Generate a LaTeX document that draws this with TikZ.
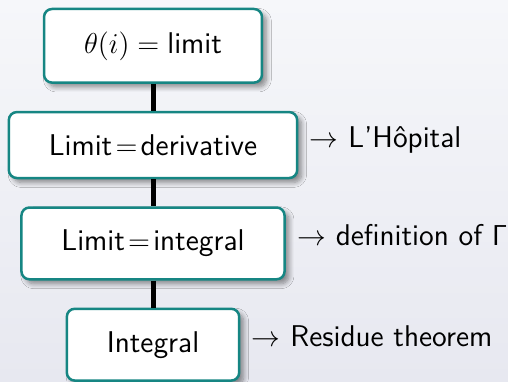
\documentclass[tikz,border=0pt]{standalone}
\usepackage{amsmath}
\usetikzlibrary{positioning, shadows.blur}

\definecolor{boxteal}{RGB}{22,134,131}
\definecolor{bgtop}{RGB}{246,247,250}
\definecolor{bgbottom}{RGB}{231,232,240}

\newcommand{\eqsign}{\hspace{1.6pt}$=$\hspace{1.6pt}}

\begin{document}
\begin{tikzpicture}[
    font=\sffamily\fontsize{15}{18}\selectfont,
    node distance=13.5pt,
    stepbox/.style={rectangle, draw=boxteal, line width=1.25pt, rounded corners=4pt, fill=white,
      inner xsep=20pt, inner ysep=11.2pt,
      blur shadow={shadow xshift=2.2pt, shadow yshift=-2.2pt, shadow blur radius=2.5pt, shadow blur steps=8, shadow opacity=45}},
    note/.style={inner sep=0pt, anchor=base west},
    link/.style={line width=2.5pt}
  ]
    \shade[top color=bgtop, bottom color=bgbottom] (0,0) rectangle (254pt,190.5pt);
    \useasboundingbox (0,0) rectangle (254pt,190.5pt);

    \node[stepbox] (theta) at (76.5pt,167.6pt) {$\theta(i)=\text{limit}$};
    \node[stepbox, below=of theta] (deriv) {Limit\eqsign derivative};
    \node[stepbox, below=of deriv] (integ) {Limit\eqsign integral};
    \node[stepbox, below=of integ] (resid) {Integral};

    \node[note, right=5.5pt of deriv.east, anchor=base west, yshift=-1pt] (hopital) {$\rightarrow$ L'Hôpital};
    \node[note, right=5.5pt of integ.east, anchor=base west, yshift=-1pt] (gamma) {$\rightarrow$ definition of $\mathsf{\Gamma}$};
    \node[note, right=5.5pt of resid.east, anchor=base west, yshift=-1pt] (residue) {$\rightarrow$ Residue theorem};

    \draw[link] (theta) -- (deriv) -- (integ) -- (resid);
  \end{tikzpicture}
\end{document}
